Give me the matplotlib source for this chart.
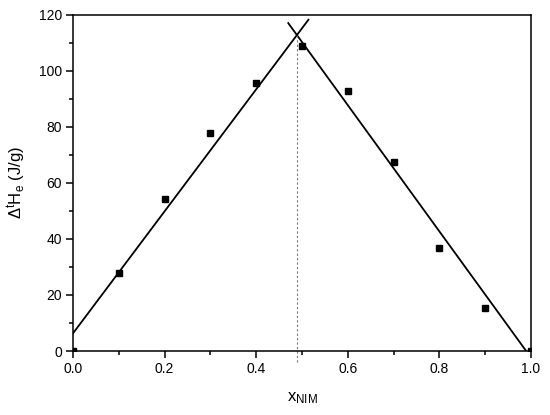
import matplotlib
matplotlib.use("Agg")
import matplotlib.pyplot as plt
from matplotlib.ticker import MultipleLocator

plt.rcParams['font.family'] = ['Liberation Sans', 'DejaVu Sans']
plt.rcParams['mathtext.fontset'] = 'custom'
plt.rcParams['mathtext.rm'] = 'Liberation Sans'
plt.rcParams['mathtext.it'] = 'Liberation Sans:italic'

# Data
x_nim = [0.0, 0.1, 0.2, 0.3, 0.4, 0.5, 0.6, 0.7, 0.8, 0.9, 1.0]
dH = [0.0, 28.0, 54.4, 77.9, 95.8, 108.7, 92.7, 67.4, 36.7, 15.2, 0.0]

left_fit_x = [0.0, 0.514]
left_fit_y = [6.3, 118.2]
right_fit_x = [0.47, 0.993]
right_fit_y = [117.0, -0.8]

eutectic_x = [0.49, 0.49]
eutectic_y = [-4.0, 113.0]

x_ticks = [0.0, 0.2, 0.4, 0.6, 0.8, 1.0]
y_ticks = [0, 20, 40, 60, 80, 100, 120]

fig = plt.figure(figsize=(5.5, 4.15), dpi=100)
ax = fig.add_axes([73/550, 1-351/415, 458/550, (351-14.7)/415])

ax.plot(left_fit_x, left_fit_y, color='black', lw=1.3)
ax.plot(right_fit_x, right_fit_y, color='black', lw=1.3)
ax.plot(eutectic_x, eutectic_y, color='#777777', lw=0.8, ls=(0, (2, 2)), clip_on=False)
ax.plot(x_nim, dH, ls='none', marker='s', ms=5, color='black', zorder=3)

ax.set_xlim(0, 1.0)
ax.set_ylim(0, 120)
ax.set_xticks(x_ticks)
ax.set_xticklabels([f"{v:.1f}" for v in x_ticks])
ax.set_yticks(y_ticks)
ax.xaxis.set_minor_locator(MultipleLocator(0.1))
ax.yaxis.set_minor_locator(MultipleLocator(10))
ax.tick_params(which='major', direction='out', length=5, width=1.1, labelsize=10, pad=3)
ax.tick_params(which='minor', direction='out', length=3, width=1.1)
ax.tick_params(top=False, right=False)
for s in ax.spines.values():
    s.set_linewidth(1.1)

ax.set_xlabel(r'x$_{\mathrm{NIM}}$', fontsize=12, labelpad=10)
ax.set_ylabel(r'$\mathrm{\Delta^{t}H_{e}}$ (J/g)', fontsize=12, labelpad=8)

fig.savefig('out.png', dpi=100)
